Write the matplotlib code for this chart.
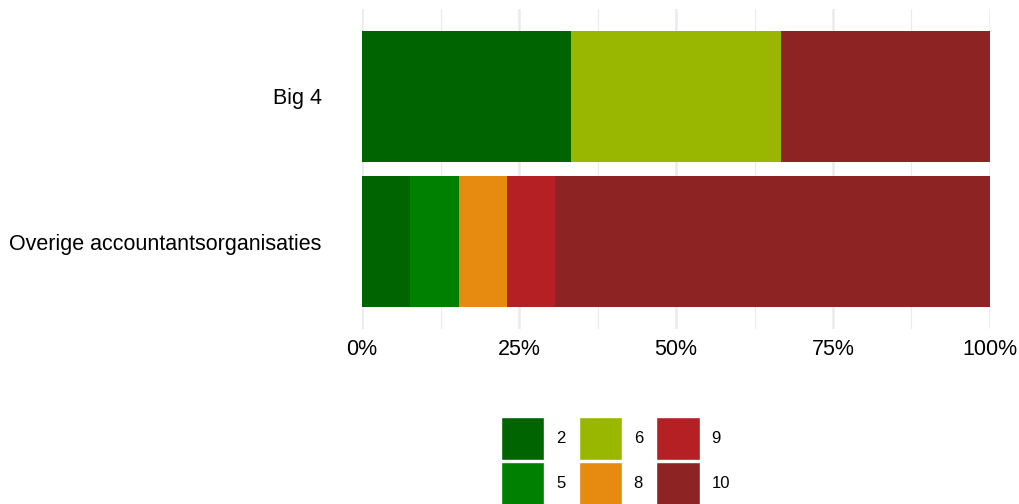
import matplotlib
matplotlib.use('Agg')
import matplotlib.pyplot as plt
import matplotlib.patches as mpatches
import numpy as np

plt.rcParams['font.family'] = ['Liberation Sans', 'DejaVu Sans']

groups = ["Big 4", "Overige accountantsorganisaties"]
scores = ["2", "5", "6", "8", "9", "10"]
colors = ["#006400", "#008000", "#9ab700", "#e68a10", "#b52025", "#8e2323"]
# shares per score (fractions), order follows scores
big4 = [1/3, 0, 1/3, 0, 0, 1/3]
overige = [1/13, 1/13, 0, 1/13, 1/13, 9/13]

fig = plt.figure(figsize=(10.19, 5.04), dpi=100)
ax = fig.add_axes([362/1019, 1 - 329/504, 628/1019, 320/504])

ypos = np.array([1, 0])
data = np.array([big4, overige])
left = np.zeros(2)
for i, sc in enumerate(scores):
    ax.barh(ypos, data[:, i], left=left, height=0.9, color=colors[i], linewidth=0)
    left += data[:, i]

ax.set_xlim(0, 1)
ax.set_ylim(-0.6, 1.6)
ax.set_xticks([0, 0.25, 0.5, 0.75, 1])
ax.set_xticklabels(["0%", "25%", "50%", "75%", "100%"])
ax.set_xticks([0.125, 0.375, 0.625, 0.875], minor=True)
ax.set_yticks(ypos)
ax.set_yticklabels(groups)
ax.tick_params(axis='x', which='both', length=0, pad=7, labelsize=15.5, colors='black')
ax.tick_params(axis='y', length=0, pad=29, labelsize=15.5, colors='black')
ax.grid(axis='x', which='major', color='#ebebeb', lw=1.8)
ax.grid(axis='x', which='minor', color='#ebebeb', lw=0.8)
ax.set_axisbelow(True)
for s in ax.spines.values():
    s.set_visible(False)

handles = [mpatches.Patch(facecolor=c, edgecolor='white', linewidth=1.0, label=s)
           for s, c in zip(scores, colors)]
fig.legend(handles=handles, ncol=3, loc='upper left', bbox_to_anchor=(501/1019, 1 - 417/504),
           frameon=False, fontsize=12, handlelength=2.6, handleheight=3.6,
           handletextpad=0.7, columnspacing=0.8, labelspacing=0.1, borderpad=0,
           borderaxespad=0)

fig.savefig("out.png", dpi=100)
